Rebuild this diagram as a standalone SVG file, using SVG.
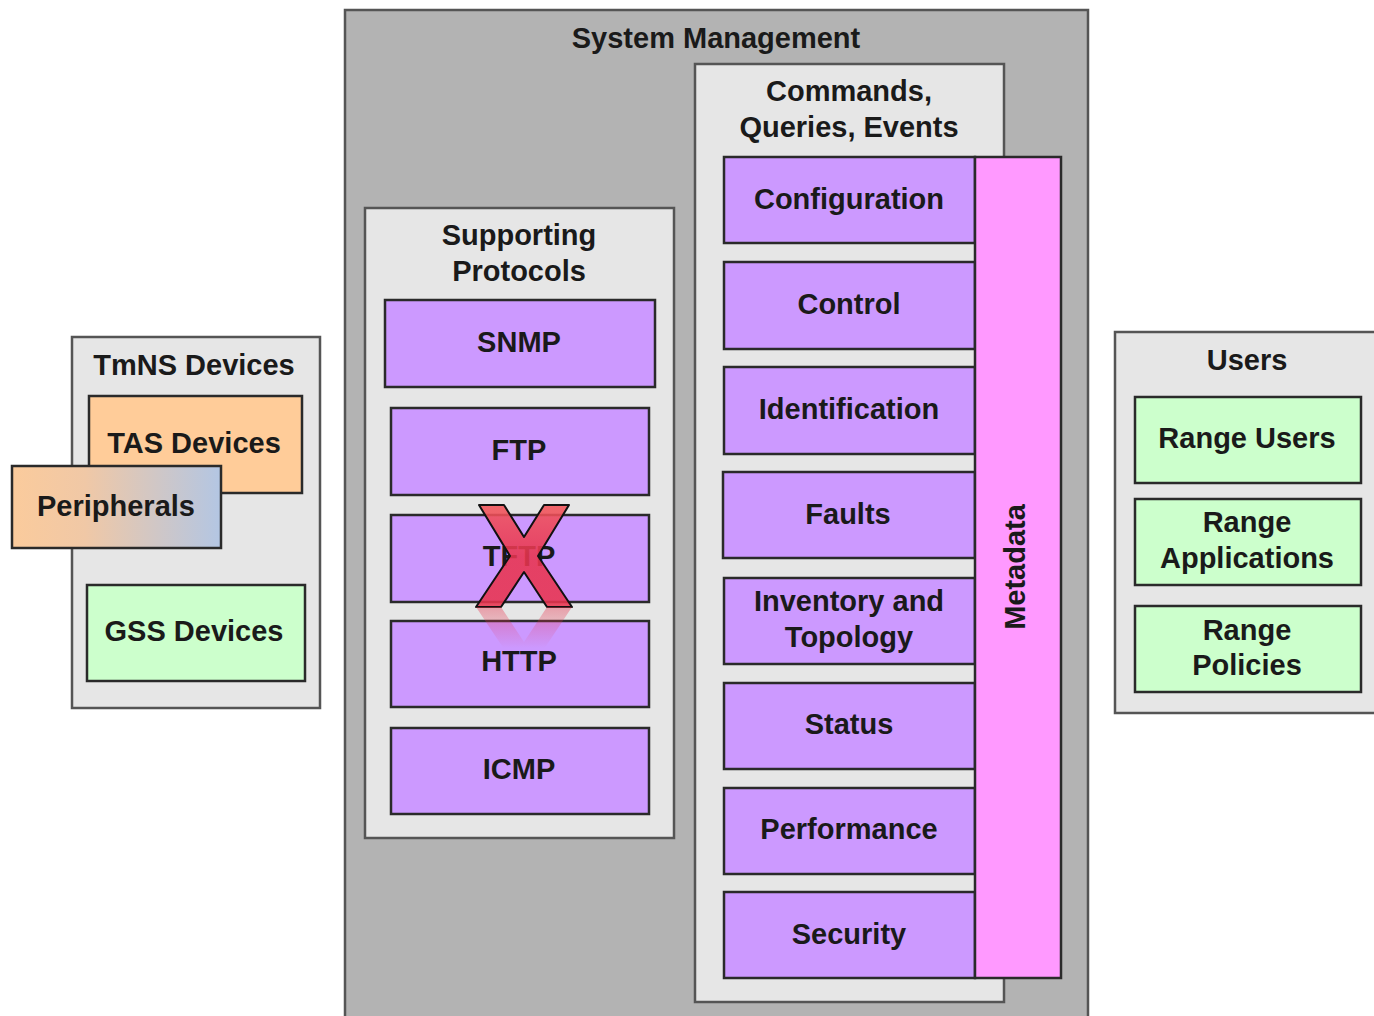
<svg xmlns="http://www.w3.org/2000/svg" width="1374" height="1016" viewBox="0 0 1374 1016">
<style>
text{font-family:"Liberation Sans",Arial,sans-serif;font-weight:bold;font-size:29px;fill:#1a1a1a;text-anchor:middle}
.cont{fill:#e6e6e6;stroke:#555;stroke-width:2.5}
.purple{fill:#cc99ff;stroke:#2a2a2a;stroke-width:2.5}
.green{fill:#ccffcc;stroke:#2a2a2a;stroke-width:2.5}
.orange{fill:#ffcc99;stroke:#2a2a2a;stroke-width:2.5}
</style>
<defs>
<linearGradient id="periph" x1="0" y1="0" x2="1" y2="0">
<stop offset="0" stop-color="#fbcb9c"/>
<stop offset="0.35" stop-color="#f0c8a6"/>
<stop offset="1" stop-color="#b3c6e3"/>
</linearGradient>
<linearGradient id="xfill" x1="0" y1="505" x2="0" y2="607" gradientUnits="userSpaceOnUse">
<stop offset="0" stop-color="#f2555a"/>
<stop offset="0.5" stop-color="#e8344f"/>
<stop offset="1" stop-color="#e8344f"/>
</linearGradient>
<linearGradient id="refl" x1="0" y1="607" x2="0" y2="648" gradientUnits="userSpaceOnUse">
<stop offset="0" stop-color="#e8344f" stop-opacity="0.4"/>
<stop offset="1" stop-color="#e8344f" stop-opacity="0"/>
</linearGradient>
</defs>

<g id="system-management">
<rect x="345" y="10" width="743" height="1020" fill="#b3b3b3" stroke="#555" stroke-width="2.5"/>
<text x="716" y="48">System Management</text>
</g>

<g id="supporting-protocols">
<rect class="cont" x="365" y="208" width="309" height="630"/>
<text x="519" y="245">Supporting</text>
<text x="519" y="281">Protocols</text>
</g>
<g id="snmp"><rect class="purple" x="385" y="300" width="270" height="87"/><text x="519" y="352">SNMP</text></g>
<g id="ftp"><rect class="purple" x="391" y="408" width="258" height="87"/><text x="519" y="460">FTP</text></g>
<g id="tftp"><rect class="purple" x="391" y="515" width="258" height="87"/><text x="519" y="566">TFTP</text></g>
<g id="http"><rect class="purple" x="391" y="621" width="258" height="86"/><text x="519" y="671">HTTP</text></g>
<g id="icmp"><rect class="purple" x="391" y="728" width="258" height="86"/><text x="519" y="779">ICMP</text></g>

<g id="tftp-cross">
<polygon points="479,505 504,505 524,537 544,505 569,505 538,556 572,607 547,607 524,572 501,607 476,607 510,556" fill="url(#xfill)" fill-opacity="0.88" stroke="#111" stroke-width="2" stroke-linejoin="round"/>
<polygon points="479,709 504,709 524,677 544,709 569,709 538,658 572,607 547,607 524,642 501,607 476,607 510,658" fill="url(#refl)"/>
</g>

<g id="commands">
<rect class="cont" x="695" y="64" width="309" height="938"/>
<text x="849" y="101">Commands,</text>
<text x="849" y="137">Queries, Events</text>
</g>
<g id="configuration"><rect class="purple" x="724" y="157" width="251" height="86"/><text x="849" y="209">Configuration</text></g>
<g id="control"><rect class="purple" x="724" y="262" width="251" height="87"/><text x="849" y="314">Control</text></g>
<g id="identification"><rect class="purple" x="724" y="367" width="251" height="87"/><text x="849" y="419">Identification</text></g>
<g id="faults"><rect class="purple" x="723" y="472" width="252" height="86"/><text x="848" y="524">Faults</text></g>
<g id="inventory"><rect class="purple" x="724" y="578" width="251" height="86"/><text x="849" y="611">Inventory and</text><text x="849" y="647">Topology</text></g>
<g id="status"><rect class="purple" x="724" y="683" width="251" height="86"/><text x="849" y="734">Status</text></g>
<g id="performance"><rect class="purple" x="724" y="788" width="251" height="86"/><text x="849" y="839">Performance</text></g>
<g id="security"><rect class="purple" x="724" y="892" width="251" height="86"/><text x="849" y="944">Security</text></g>
<g id="metadata"><rect x="975" y="157" width="86" height="821" fill="#ff99ff" stroke="#2a2a2a" stroke-width="2.5"/><text transform="translate(1025,567) rotate(-90)" x="0" y="0">Metadata</text></g>

<g id="tmns-devices">
<rect class="cont" x="72" y="337" width="248" height="371"/>
<text x="194" y="375">TmNS Devices</text>
</g>
<g id="tas-devices"><rect class="orange" x="89" y="396" width="213" height="97"/><text x="194" y="453">TAS Devices</text></g>
<g id="peripherals"><rect x="12" y="466" width="209" height="82" fill="url(#periph)" stroke="#2a2a2a" stroke-width="2.5"/><text x="116" y="516">Peripherals</text></g>
<g id="gss-devices"><rect class="green" x="87" y="585" width="218" height="96"/><text x="194" y="641">GSS Devices</text></g>

<g id="users">
<rect class="cont" x="1115" y="332" width="270" height="381"/>
<text x="1247" y="370">Users</text>
</g>
<g id="range-users"><rect class="green" x="1135" y="397" width="226" height="86"/><text x="1247" y="448">Range Users</text></g>
<g id="range-applications"><rect class="green" x="1135" y="499" width="226" height="86"/><text x="1247" y="532">Range</text><text x="1247" y="568">Applications</text></g>
<g id="range-policies"><rect class="green" x="1135" y="606" width="226" height="86"/><text x="1247" y="640">Range</text><text x="1247" y="675">Policies</text></g>

<g id="connectors"></g>
</svg>
